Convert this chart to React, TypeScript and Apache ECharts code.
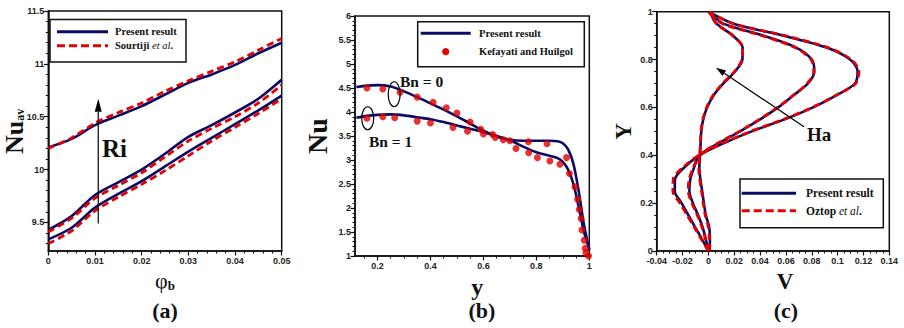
import React, { useEffect, useRef } from 'react';
import * as echarts from 'echarts';

// ---------- (a) average Nusselt number vs. nanoparticle volume fraction ----------
const phiB = [0, 0.005, 0.01, 0.015, 0.02, 0.025, 0.03, 0.035, 0.04, 0.045, 0.05];
const nuAvHighPresent = [10.21, 10.29, 10.42, 10.51, 10.6, 10.71, 10.82, 10.9, 10.99, 11.1, 11.2];
const nuAvHighSourtiji = [10.2, 10.3, 10.44, 10.54, 10.63, 10.74, 10.84, 10.93, 11.02, 11.13, 11.24];
const nuAvMidPresent = [9.43, 9.56, 9.76, 9.88, 10.0, 10.15, 10.31, 10.42, 10.54, 10.67, 10.85];
const nuAvMidSourtiji = [9.41, 9.54, 9.73, 9.85, 9.97, 10.12, 10.27, 10.39, 10.5, 10.63, 10.8];
const nuAvLowPresent = [9.34, 9.45, 9.64, 9.77, 9.89, 10.03, 10.17, 10.3, 10.43, 10.56, 10.7];
const nuAvLowSourtiji = [9.3, 9.42, 9.61, 9.74, 9.86, 9.99, 10.13, 10.27, 10.4, 10.53, 10.67];
const nuAvTicks = [9.5, 10, 10.5, 11, 11.5];
const nuAvMinorTicks = [9.3, 9.4, 9.6, 9.7, 9.8, 9.9, 10.1, 10.2, 10.3, 10.4, 10.6, 10.7, 10.8, 10.9, 11.1, 11.2, 11.3, 11.4];

// ---------- (b) local Nusselt number along the wall ----------
const yWall = [0.12, 0.16, 0.2, 0.25, 0.3, 0.35, 0.4, 0.45, 0.5, 0.55, 0.6, 0.65, 0.7, 0.75, 0.8, 0.85, 0.88, 0.9, 0.92, 0.94, 0.96, 0.98, 1.0];
const nuBn0Present = [4.52, 4.55, 4.56, 4.53, 4.43, 4.31, 4.18, 4.05, 3.91, 3.76, 3.61, 3.49, 3.42, 3.4, 3.4, 3.4, 3.39, 3.35, 3.22, 2.92, 2.35, 1.65, 1.12];
const nuBn1Present = [3.88, 3.92, 3.94, 3.95, 3.93, 3.89, 3.85, 3.79, 3.72, 3.65, 3.58, 3.5, 3.41, 3.28, 3.16, 3.09, 3.04, 2.96, 2.8, 2.5, 2.02, 1.5, 1.15];
const kefBn0Y = [0.16, 0.22, 0.285, 0.35, 0.41, 0.46, 0.5, 0.55, 0.59, 0.635, 0.675, 0.77, 0.84, 0.914, 0.946, 0.962, 0.972, 0.985, 0.997];
const kefBn0Nu = [4.5, 4.48, 4.41, 4.31, 4.2, 4.09, 3.98, 3.79, 3.64, 3.53, 3.42, 3.38, 3.34, 3.05, 2.44, 1.97, 1.54, 1.16, 1.0];
const kefBn1Y = [0.16, 0.22, 0.265, 0.35, 0.4, 0.485, 0.54, 0.6, 0.645, 0.7, 0.723, 0.771, 0.804, 0.851, 0.889, 0.925, 0.956, 0.969, 0.981, 0.987];
const kefBn1Nu = [3.87, 3.9, 3.88, 3.81, 3.77, 3.68, 3.6, 3.54, 3.47, 3.4, 3.24, 3.15, 3.05, 2.98, 2.91, 2.72, 2.18, 1.78, 1.33, 1.07];
const yWallTicks = [0.2, 0.4, 0.6, 0.8, 1];
const yWallMinorTicks = [0.15, 0.25, 0.3, 0.35, 0.45, 0.5, 0.55, 0.65, 0.7, 0.75, 0.85, 0.9, 0.95];

// ---------- (c) vertical velocity profiles for increasing Ha ----------
const yProfile = [0, 0.05, 0.1, 0.15, 0.2, 0.25, 0.3, 0.35, 0.4, 0.45, 0.5, 0.55, 0.6, 0.65, 0.7, 0.75, 0.8, 0.85, 0.9, 0.95, 1];
const vHaLowPresent = [0, -0.005, -0.0103, -0.0155, -0.0207, -0.026, -0.0258, -0.0185, -0.007, 0.0116, 0.0335, 0.059, 0.081, 0.099, 0.1134, 0.1155, 0.1096, 0.0915, 0.058, 0.0193, 0];
const vHaLowOztop = [0, -0.0055, -0.011, -0.0165, -0.022, -0.0275, -0.0272, -0.0195, -0.0074, 0.011, 0.033, 0.058, 0.0805, 0.0985, 0.114, 0.1165, 0.1105, 0.0925, 0.059, 0.0195, 0];
const vHaMidPresent = [0, -0.002, -0.0045, -0.008, -0.012, -0.0147, -0.014, -0.011, -0.007, 0.0077, 0.0245, 0.04, 0.054, 0.0657, 0.077, 0.082, 0.08, 0.068, 0.0425, 0.0116, 0];
const vHaMidOztop = [0, -0.0023, -0.005, -0.0086, -0.0127, -0.0156, -0.0149, -0.0115, -0.0072, 0.0072, 0.024, 0.0395, 0.0535, 0.0655, 0.0765, 0.0815, 0.0795, 0.067, 0.0415, 0.011, 0];
const vHaHighPresent = [0.001, 0.0012, 0.0006, -0.002, -0.0035, -0.0048, -0.0062, -0.007, -0.0065, -0.006, -0.0055, -0.004, -0.001, 0.004, 0.0116, 0.0206, 0.0263, 0.0265, 0.019, 0.0064, 0.001];
const vHaHighOztop = [0.0005, 0.0008, 0.0, -0.0024, -0.004, -0.0053, -0.0067, -0.0075, -0.0068, -0.0062, -0.0057, -0.0043, -0.0014, 0.0035, 0.011, 0.0202, 0.026, 0.0265, 0.0188, 0.0062, 0.0008];

const NAVY = '#0b0b64';
const RED = '#e20000';
const INK = '#111';
const SERIF = '"Liberation Serif", "Times New Roman", serif';
const SANS = '"Liberation Sans", Arial, sans-serif';

const zip = (xs: number[], ys: number[]) => xs.map((x, i) => [x, ys[i]]);

const tickLabel = { fontFamily: SANS, fontWeight: 'bold', fontSize: 9, color: '#222' };
const axisLineStyle = { show: true, onZero: false, lineStyle: { color: INK, width: 1.5 } };
const majorTick = { show: true, length: 4.5, lineStyle: { color: INK, width: 1.2 } };
const minorTickStyle = { length: 2.5, lineStyle: { color: INK, width: 1 } };

function solid(xi: number, yi: number, data: number[][]) {
  return {
    type: 'line', name: 'Present result', xAxisIndex: xi, yAxisIndex: yi, data,
    symbol: 'none', smooth: 0.3, silent: true, z: 3,
    lineStyle: { color: NAVY, width: 2.6 }, itemStyle: { color: NAVY },
  };
}
function dashed(name: string, xi: number, yi: number, data: number[][]) {
  return {
    type: 'line', name, xAxisIndex: xi, yAxisIndex: yi, data,
    symbol: 'none', smooth: 0.3, silent: true, z: 4,
    lineStyle: { color: RED, width: 2.8, type: [7, 4] }, itemStyle: { color: RED },
  };
}
function dots(xi: number, yi: number, data: number[][]) {
  return {
    type: 'scatter', name: 'Kefayati and Huilgol', xAxisIndex: xi, yAxisIndex: yi, data,
    symbol: 'circle', symbolSize: 7, silent: true, z: 5, itemStyle: { color: RED },
  };
}

const gridBox = { show: true, borderColor: INK, borderWidth: 1.5, backgroundColor: 'transparent', containLabel: false, outerBoundsMode: 'none' };

function buildOption() {
  return {
    animation: false,
    backgroundColor: '#fff',
    grid: [
      { ...gridBox, left: 48.3, top: 11, width: 233.4, height: 240 },
      { ...gridBox, left: 355, top: 16, width: 234.3, height: 240 },
      { ...gridBox, left: 656.7, top: 11.7, width: 232.6, height: 239.3 },
    ],
    xAxis: [
      {
        type: 'value', gridIndex: 0, position: 'bottom', min: 0, max: 0.05, interval: 0.01,
        axisLine: axisLineStyle, axisTick: majorTick,
        minorTick: { show: true, splitNumber: 5, ...minorTickStyle },
        splitLine: { show: false }, minorSplitLine: { show: false },
        axisLabel: { ...tickLabel, margin: 5 },
        name: '{p|φ}{s|b}', nameLocation: 'middle', nameGap: 18,
        nameTextStyle: {
          rich: {
            p: { fontFamily: SERIF, fontSize: 22, color: INK },
            s: { fontFamily: SERIF, fontWeight: 'bold', fontSize: 13, color: INK, verticalAlign: 'bottom' },
          },
        },
      },
      {
        type: 'value', gridIndex: 1, position: 'bottom', min: 0.115, max: 1,
        axisLine: axisLineStyle, axisTick: { ...majorTick, customValues: yWallTicks },
        minorTick: { show: false }, splitLine: { show: false },
        axisLabel: { ...tickLabel, margin: 5, customValues: yWallTicks },
        name: 'y', nameLocation: 'middle', nameGap: 12,
        nameTextStyle: { fontFamily: SERIF, fontWeight: 'bold', fontSize: 24, color: INK, padding: [0, 0, 0, 10] },
      },
      {
        type: 'value', gridIndex: 1, position: 'bottom', min: 0.115, max: 1,
        axisLine: { show: false }, axisTick: { show: true, customValues: yWallMinorTicks, ...minorTickStyle },
        axisLabel: { show: false }, splitLine: { show: false },
      },
      {
        type: 'value', gridIndex: 2, position: 'bottom', min: -0.04, max: 0.14, interval: 0.02,
        axisLine: axisLineStyle, axisTick: majorTick,
        minorTick: { show: true, splitNumber: 4, ...minorTickStyle },
        splitLine: { show: false }, minorSplitLine: { show: false },
        axisLabel: { ...tickLabel, margin: 5 },
        name: 'V', nameLocation: 'middle', nameGap: 16,
        nameTextStyle: { fontFamily: SERIF, fontWeight: 'bold', fontSize: 23, color: INK, padding: [0, 0, 0, 24] },
      },
    ],
    yAxis: [
      {
        type: 'value', gridIndex: 0, position: 'left', min: 9.23, max: 11.5,
        axisLine: axisLineStyle, axisTick: { ...majorTick, customValues: nuAvTicks },
        minorTick: { show: false }, splitLine: { show: false },
        axisLabel: { ...tickLabel, margin: 4, customValues: nuAvTicks },
      },
      {
        type: 'value', gridIndex: 0, position: 'left', min: 9.23, max: 11.5,
        axisLine: { show: false }, axisTick: { show: true, customValues: nuAvMinorTicks, ...minorTickStyle },
        axisLabel: { show: false }, splitLine: { show: false },
      },
      {
        type: 'value', gridIndex: 1, position: 'left', min: 1, max: 6, interval: 0.5,
        axisLine: axisLineStyle, axisTick: majorTick,
        minorTick: { show: true, splitNumber: 5, ...minorTickStyle },
        splitLine: { show: false }, minorSplitLine: { show: false },
        axisLabel: { ...tickLabel, margin: 4 },
        name: 'Nu', nameLocation: 'middle', nameGap: 24, nameRotate: 90,
        nameTextStyle: { fontFamily: SERIF, fontWeight: 'bold', fontSize: 28, color: INK },
      },
      {
        type: 'value', gridIndex: 2, position: 'left', min: 0, max: 1, interval: 0.2,
        axisLine: axisLineStyle, axisTick: majorTick,
        minorTick: { show: true, splitNumber: 4, ...minorTickStyle },
        splitLine: { show: false }, minorSplitLine: { show: false },
        axisLabel: { ...tickLabel, margin: 4 },
        name: 'Y', nameLocation: 'middle', nameGap: 22, nameRotate: 90,
        nameTextStyle: { fontFamily: SERIF, fontWeight: 'bold', fontSize: 23, color: INK },
      },
    ],
    series: [
      solid(0, 0, zip(phiB, nuAvHighPresent)),
      dashed('Sourtiji et al.', 0, 0, zip(phiB, nuAvHighSourtiji)),
      solid(0, 0, zip(phiB, nuAvMidPresent)),
      dashed('Sourtiji et al.', 0, 0, zip(phiB, nuAvMidSourtiji)),
      solid(0, 0, zip(phiB, nuAvLowPresent)),
      dashed('Sourtiji et al.', 0, 0, zip(phiB, nuAvLowSourtiji)),

      solid(1, 2, zip(yWall, nuBn0Present)),
      solid(1, 2, zip(yWall, nuBn1Present)),
      dots(1, 2, zip(kefBn0Y, kefBn0Nu)),
      dots(1, 2, zip(kefBn1Y, kefBn1Nu)),

      solid(3, 3, zip(vHaLowPresent, yProfile)),
      dashed('Oztop et al.', 3, 3, zip(vHaLowOztop, yProfile)),
      solid(3, 3, zip(vHaMidPresent, yProfile)),
      dashed('Oztop et al.', 3, 3, zip(vHaMidOztop, yProfile)),
      solid(3, 3, zip(vHaHighPresent, yProfile)),
      dashed('Oztop et al.', 3, 3, zip(vHaHighOztop, yProfile)),
    ],
  };
}

// ---------- annotations and legends ----------
const txt = (text: string, x: number, y: number, size: number, align = 'left', extra: any = {}) => ({
  type: 'text', z: 60,
  style: {
    text, x, y, fill: INK, fontFamily: SERIF, fontWeight: 'bold', fontSize: size,
    align, textAlign: align, verticalAlign: 'middle', textVerticalAlign: 'middle', ...extra,
  },
});

function arrow(p1: number[], p2: number[], headLen: number, headW: number) {
  const dx = p2[0] - p1[0];
  const dy = p2[1] - p1[1];
  const L = Math.hypot(dx, dy);
  const ux = dx / L;
  const uy = dy / L;
  const bx = p2[0] - ux * headLen;
  const by = p2[1] - uy * headLen;
  const px = (-uy * headW) / 2;
  const py = (ux * headW) / 2;
  return [
    { type: 'line', z: 50, shape: { x1: p1[0], y1: p1[1], x2: bx, y2: by }, style: { stroke: '#000', lineWidth: 1.2 } },
    { type: 'polygon', z: 50, shape: { points: [[p2[0], p2[1]], [bx + px, by + py], [bx - px, by - py]] }, style: { fill: '#000' } },
  ];
}

function legendBox(x: number, y: number, w: number, h: number) {
  return { type: 'rect', z: 40, shape: { x, y, width: w, height: h }, style: { fill: '#fff', stroke: INK, lineWidth: 1.5 } };
}
function legendLine(x1: number, x2: number, y: number, color: string, dash?: number[]) {
  return {
    type: 'line', z: 45, shape: { x1, y1: y, x2, y2: y },
    style: { stroke: color, lineWidth: 3, lineDash: dash || null },
  };
}
const etAl = (author: string, size: number) => ({
  rich: {
    b: { fontFamily: SERIF, fontWeight: 'bold', fontSize: size, fill: INK, color: INK },
    i: { fontFamily: SERIF, fontStyle: 'italic', fontSize: size, fill: INK, color: INK },
  },
  text: `{b|${author} }{i|et al}{b|.}`,
});

function buildGraphics(chart: any) {
  const px = (xi: number, yi: number, p: number[]) =>
    chart.convertToPixel({ xAxisIndex: xi, yAxisIndex: yi }, p) as number[];

  const ellipseAt = (c: number[], rx: number, ry: number) => ({
    type: 'ellipse', z: 50, shape: { cx: c[0], cy: c[1], rx, ry },
    style: { fill: 'none', stroke: '#000', lineWidth: 1.2 },
  });

  const riFrom = px(0, 0, [0.0107, 9.49]);
  const riTo = px(0, 0, [0.0107, 10.67]);
  const riText = px(0, 0, [0.0115, 10.2]);
  const bn0Ring = px(1, 2, [0.263, 4.37]);
  const bn1Ring = px(1, 2, [0.163, 3.87]);
  const bn0Text = px(1, 2, [0.285, 4.64]);
  const bn1Text = px(1, 2, [0.168, 3.385]);
  const haFrom = px(3, 3, [0.074, 0.519]);
  const haTo = px(3, 3, [0.0059, 0.766]);
  const haText = px(3, 3, [0.0763, 0.485]);

  const sA = etAl('Sourtiji', 10.5);
  const sC = etAl('Oztop', 11.5);

  return [
    // y-axis title of (a): Nu with subscript "av", written bottom-to-top
    {
      type: 'text', z: 60, x: 14, y: 154, rotation: Math.PI / 2,
      style: {
        text: '{n|Nu}{s|av}', align: 'left', textAlign: 'left', verticalAlign: 'middle', textVerticalAlign: 'middle',
        rich: {
          n: { fontFamily: SERIF, fontWeight: 'bold', fontSize: 26, lineHeight: 24, fill: INK, color: INK },
          s: { fontFamily: SERIF, fontWeight: 'bold', fontSize: 12, lineHeight: 14, fill: INK, color: INK, verticalAlign: 'bottom' },
        },
      },
    },

    // panel captions
    txt('(a)', 165, 310, 22, 'center'),
    txt('(b)', 482, 310, 22, 'center'),
    txt('(c)', 786, 310, 22, 'center'),

    // (a)
    ...arrow(riFrom, riTo, 13, 7),
    txt('Ri', riText[0], riText[1], 25),
    legendBox(50, 19.5, 136, 42.5),
    legendLine(57, 108, 31.7, NAVY),
    legendLine(57, 108, 45.7, RED, [8, 4]),
    txt('Present result', 115, 31.7, 10.5),
    { type: 'text', z: 60, style: { x: 115, y: 45.7, verticalAlign: 'middle', textVerticalAlign: 'middle', text: sA.text, rich: sA.rich } },

    // (b)
    ellipseAt(bn0Ring, 6, 12.5),
    ellipseAt(bn1Ring, 6, 11.5),
    txt('Bn = 0', bn0Text[0], bn0Text[1], 15.5),
    txt('Bn = 1', bn1Text[0], bn1Text[1], 15.5),
    legendBox(417.7, 21.7, 166.6, 45),
    legendLine(420.7, 470.7, 33.3, NAVY),
    { type: 'circle', z: 45, shape: { cx: 445.7, cy: 51.7, r: 3.6 }, style: { fill: RED } },
    txt('Present result', 479, 33.3, 10.5),
    txt('Kefayati and Huilgol', 479, 51.7, 10.5),

    // (c)
    ...arrow(haFrom, haTo, 10, 6.5),
    txt('Ha', haText[0], haText[1], 19),
    legendBox(740, 179, 143.3, 48.7),
    legendLine(741.7, 796, 193.3, NAVY),
    legendLine(741.7, 796, 210.7, RED, [8, 4]),
    txt('Present result', 806, 193.3, 11.5),
    { type: 'text', z: 60, style: { x: 806, y: 210.7, verticalAlign: 'middle', textVerticalAlign: 'middle', text: sC.text, rich: sC.rich } },
  ];
}

export default function App() {
  const ref = useRef<HTMLDivElement>(null);
  useEffect(() => {
    const chart = echarts.init(ref.current!, null, { renderer: 'svg' });
    chart.setOption(buildOption() as any);
    chart.setOption({ graphic: buildGraphics(chart) } as any);
    return () => chart.dispose();
  }, []);
  return (
    <div
      ref={ref}
      style={{ position: 'fixed', left: 0, top: 0, width: 904, height: 328, background: '#fff' }}
    />
  );
}
